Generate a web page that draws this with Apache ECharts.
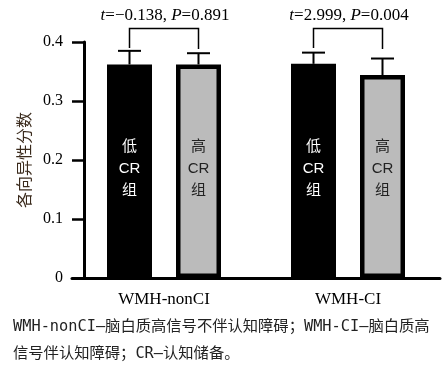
<!DOCTYPE html>
<html><head><meta charset="utf-8">
<script src="https://cdn.jsdelivr.net/npm/echarts@6/dist/echarts.min.js"></script>
<style>html,body{margin:0;padding:0;background:#fff}#c{width:442px;height:370px}</style>
</head><body><div id="c"></div>
<script>
// ---- data ----
const categories = ['WMH-nonCI', 'WMH-CI'];
const lowCRMeans = [0.362, 0.363];
const lowCRSD = [0.023, 0.019];
const highCRMeans = [0.362, 0.344];
const highCRSD = [0.019, 0.028];
const lowLabel = '低\nCR\n组';
const highLabel = '高\nCR\n组';
const statTexts = ['{i|t}=\u22120.138, {i|P}=0.891', '{i|t}=2.999, {i|P}=0.004'];
const bracketTop = [0.423, 0.423];
const bracketLeftEnd = [0.390, 0.390];
const bracketRightEnd = [0.388, 0.388];
const yMin = 0, yMax = 0.4, yStep = 0.1;
const yName = '各向异性分数';
const caption = 'WMH-nonCI—脑白质高信号不伴认知障碍；WMH-CI—脑白质高\n信号伴认知障碍；CR—认知储备。';

// ---- layout constants ----
const W = 45, GAP = 24;
const OFF_LOW = -(W + GAP) / 2;
const OFF_HIGH = (W + GAP) / 2;
const SERIF = "'Liberation Serif','Times New Roman',serif";

function errRender(offset) {
  return function (params, api) {
    const c = api.value(0), m = api.value(1), s = api.value(2);
    const base = api.coord([c, m]);
    const top = api.coord([c, m + s]);
    const x = base[0] + offset;
    return {
      type: 'group', children: [
        { type: 'line', shape: { x1: x, y1: base[1], x2: x, y2: top[1] }, style: { stroke: '#000', lineWidth: 2 } },
        { type: 'line', shape: { x1: x - 11.5, y1: top[1], x2: x + 11.5, y2: top[1] }, style: { stroke: '#000', lineWidth: 2 } }
      ]
    };
  };
}

function bracketRender(params, api) {
  const c = api.value(0);
  const t = api.coord([c, api.value(1)]);
  const l = api.coord([c, api.value(2)]);
  const r = api.coord([c, api.value(3)]);
  const xl = t[0] + OFF_LOW, xr = t[0] + OFF_HIGH;
  return {
    type: 'group', children: [
      { type: 'polyline', shape: { points: [[xl, l[1]], [xl, t[1]], [xr, t[1]], [xr, r[1]]] }, style: { stroke: '#000', lineWidth: 1.5, fill: 'none' } },
      { type: 'text', style: {
          text: statTexts[params.dataIndex], x: (xl + xr) / 2 + 1, y: t[1] - 13,
          align: 'center', verticalAlign: 'middle', fill: '#000',
          fontSize: 17, fontFamily: SERIF,
          rich: { i: { fontStyle: 'italic', fontSize: 17, fontFamily: SERIF } }
        } }
    ]
  };
}

const chart = echarts.init(document.getElementById('c'), null, { renderer: 'canvas' });
chart.setOption({
  animation: false,
  backgroundColor: '#fff',
  title: {
    text: caption, left: 13, top: 314, padding: 0,
    textStyle: { fontSize: 15.3, fontWeight: 'normal', color: '#222', lineHeight: 27,
      fontFamily: "'DejaVu Sans Mono','Noto Sans CJK SC',monospace" }
  },
  grid: { left: 72, right: 2, top: 42, bottom: 92, containLabel: false },
  xAxis: {
    type: 'category', data: categories,
    axisLine: { lineStyle: { color: '#000', width: 3 } },
    axisTick: { alignWithLabel: true, length: 10, lineStyle: { color: '#000', width: 3 } },
    axisLabel: { color: '#000', fontSize: 17, fontFamily: SERIF, margin: 13 }
  },
  yAxis: {
    type: 'value', min: yMin, max: yMax, interval: yStep, offset: -12,
    name: yName, nameLocation: 'middle', nameRotate: 90, nameGap: 51,
    nameTextStyle: { fontSize: 16, color: '#3a2a1c', fontFamily: "'Noto Sans CJK SC',sans-serif" },
    axisLine: { show: true, lineStyle: { color: '#000', width: 3 } },
    axisTick: { show: true, length: 12, lineStyle: { color: '#000', width: 2.5 } },
    axisLabel: { color: '#000', fontSize: 16, fontFamily: SERIF, margin: 21,
      formatter: v => (v === 0 ? '0' : v.toFixed(1)) },
    splitLine: { show: false }
  },
  series: [
    {
      type: 'bar', name: '低CR组', data: lowCRMeans, barWidth: W, barGap: (GAP / W * 100) + '%',
      itemStyle: { color: '#000' },
      label: { show: true, position: 'insideBottom', distance: 76, formatter: lowLabel, color: '#fff',
        fontSize: 15, lineHeight: 22, fontFamily: "'Liberation Sans','Noto Sans CJK SC',sans-serif" }
    },
    {
      type: 'bar', name: '高CR组', data: highCRMeans, barWidth: W, barGap: (GAP / W * 100) + '%',
      itemStyle: { color: '#bbbbbb', borderColor: '#000', borderWidth: 4.5 },
      label: { show: true, position: 'insideBottom', distance: 76, formatter: highLabel, color: '#222',
        fontSize: 15, lineHeight: 22, fontFamily: "'Liberation Sans','Noto Sans CJK SC',sans-serif" }
    },
    {
      type: 'custom', renderItem: errRender(OFF_LOW), z: 5,
      data: categories.map((c, i) => [i, lowCRMeans[i], lowCRSD[i]]),
      encode: { x: 0, y: 1 }
    },
    {
      type: 'custom', renderItem: errRender(OFF_HIGH), z: 5,
      data: categories.map((c, i) => [i, highCRMeans[i], highCRSD[i]]),
      encode: { x: 0, y: 1 }
    },
    {
      type: 'custom', renderItem: bracketRender, z: 5,
      data: categories.map((c, i) => [i, bracketTop[i], bracketLeftEnd[i], bracketRightEnd[i]]),
      encode: { x: 0, y: 1 }
    }
  ]
});
</script>
</body></html>
